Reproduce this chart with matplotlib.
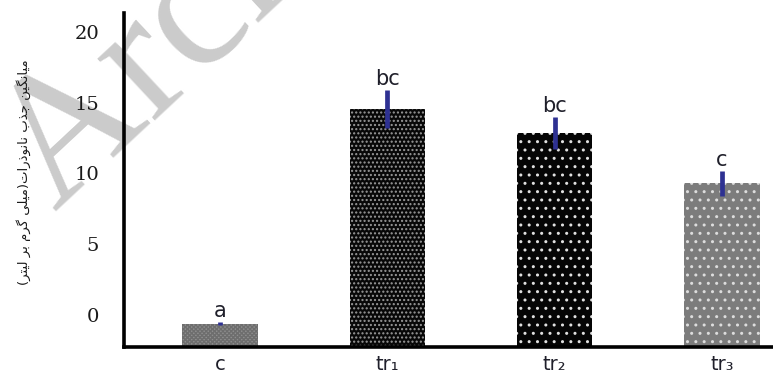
import matplotlib
matplotlib.use("Agg")
import matplotlib.pyplot as plt

categories = ["c", "tr\u2081", "tr\u2082", "tr\u2083"]
values = [-0.64, 14.57, 12.86, 9.29]
errors = [0.12, 1.32, 1.14, 0.89]
letters = ["a", "bc", "bc", "c"]
ytick_values = [0, 5, 10, 15, 20]
ytick_labels = ["0", "5", "10", "15", "20"]

# Persian y label, pre-shaped (presentation forms) in visual order
words = [
    "\uFEE3\uFBFF\uFE8E\uFEE7\uFB95\uFBFF\uFEE6",      # میانگین
    "\uFE9F\uFEAC\uFE8F",                              # جذب
    "\uFEE7\uFE8E\uFEE7\uFEEE\uFEAB\uFEAD\uFE8D\uFE95(" # نانوذرات(
    "\uFEE3\uFBFF\uFEE0\uFBFD",                        # میلی
    "\uFB94\uFEAE\uFEE1",                              # گرم
    "\uFE91\uFEAE",                                    # بر
    "\uFEDF\uFBFF\uFE98\uFEAE)",                       # لیتر)
]
logical = " ".join(words)
mirror = {"(": ")", ")": "("}
ylabel_text = "".join(mirror.get(ch, ch) for ch in reversed(logical))

fig = plt.figure(figsize=(7.73, 3.74), dpi=100)
ax = fig.add_axes([124/773, 27/374, 1 - 124/773, (347-13)/374])

ymin, ymax = -2.29, 21.36
faces = ["#8e8e8e", "#080808", "#050505", "#7c7c7c"]
hatches = ["xxxxxxxx", "....", "..", ".."]
hcolors = ["#6e6e6e", "#9a9a9a", "#e0e0e0", "#dddddd"]
x = list(range(len(categories)))
for i in x:
    ax.bar(i, values[i] - ymin, bottom=ymin, width=0.45, color=faces[i],
           hatch=hatches[i], edgecolor=hcolors[i], linewidth=0, zorder=2)
ax.errorbar(x, values, yerr=errors, fmt="none", ecolor="#2e3192",
            elinewidth=3.4, capsize=0, zorder=3)
for i in x:
    ax.annotate(letters[i], (i, values[i] + errors[i]), xytext=(0, 1),
                textcoords="offset points", ha="center", va="bottom",
                fontsize=15, color="#1f1f2a", family="DejaVu Sans")

ax.set_xlim(-0.574, 3.305)
ax.set_ylim(ymin, ymax)
ax.set_xticks(x)
ax.set_xticklabels(categories, fontsize=14, color="#1f1f2a", family="DejaVu Sans")
ax.set_yticks(ytick_values)
ax.set_yticklabels(ytick_labels, fontsize=14, color="#1a1a1a", family="DejaVu Serif")
ax.tick_params(axis="both", length=0)
ax.tick_params(axis="y", pad=18)
ax.tick_params(axis="x", pad=6)
for s in ["top", "right"]:
    ax.spines[s].set_visible(False)
ax.spines["left"].set_linewidth(2.6)
ax.spines["bottom"].set_linewidth(2.6)
ax.patch.set_alpha(0)

fig.text(0.03, 0.54, ylabel_text, rotation=90, ha="center", va="center",
         fontsize=9.5, family="DejaVu Sans", color="#1a1a1a")

# watermark
fig.text(56/773, 1 - 213/374, "Archive of SID", rotation=43, rotation_mode="anchor",
         ha="left", va="baseline", fontsize=132, family="Liberation Serif",
         color="#cbcbcb", zorder=-1)

fig.savefig("out.png", dpi=100)
